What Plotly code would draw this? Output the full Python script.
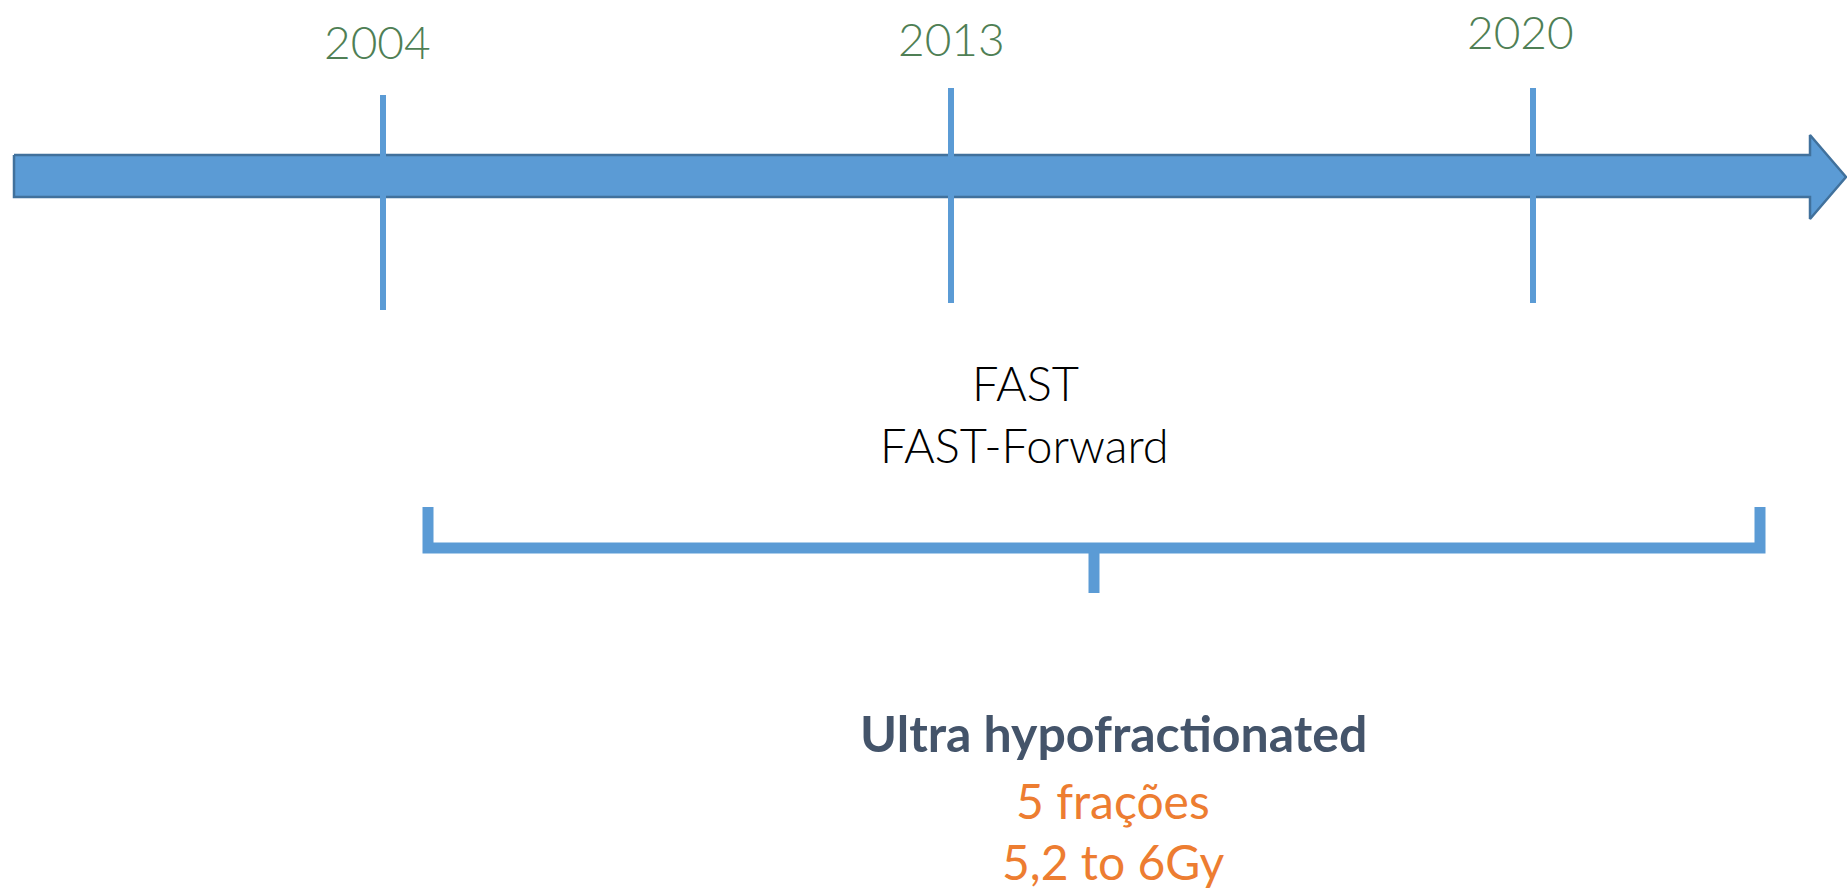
import plotly.graph_objects as go

# ---- content ----
years = ["2004", "2013", "2020"]
trial_lines = ["FAST", "FAST-Forward"]
regimen_title = "Ultra hypofractionated"
regimen_details = ["5 frações", "5,2 to 6Gy"]

# ---- geometry (pixel units of the page) ----
W, H = 1847, 891
ARROW_X0, ARROW_HEAD_X, ARROW_TIP_X = 14, 1810, 1846
BODY_Y0, BODY_Y1 = 155, 197
HEAD_Y0, HEAD_Y1, TIP_Y = 135, 219, 177
TICK_X = [383, 951, 1533]
TICK_Y = [(95, 310), (88, 303), (88, 303)]
YEAR_LABEL_X = [377, 951, 1520]
YEAR_LABEL_Y = [41, 38, 31]
TRIAL_X, TRIAL_Y = [1025, 1024], [383, 445]
BR_LEFT, BR_RIGHT, BR_TOP, BR_Y, BR_STEM_X, BR_STEM_BOTTOM = 428, 1760, 507, 548, 1094, 593
REG_X = 1113
REG_Y = [733, 800, 861]

BLUE = "#5B9BD5"
BLUE_DARK = "#41719C"
GREEN = "#4F7F55"
NAVY = "#44546A"
ORANGE = "#ED7D31"
FONT = "Lato"

fig = go.Figure()

# main arrow
ax = [ARROW_X0, ARROW_HEAD_X, ARROW_HEAD_X, ARROW_TIP_X, ARROW_HEAD_X, ARROW_HEAD_X, ARROW_X0, ARROW_X0]
ay = [BODY_Y0, BODY_Y0, HEAD_Y0, TIP_Y, HEAD_Y1, BODY_Y1, BODY_Y1, BODY_Y0]
fig.add_trace(go.Scatter(x=ax, y=ay, mode="lines", fill="toself", fillcolor=BLUE,
                         line=dict(color=BLUE_DARK, width=2.5), hoverinfo="skip", showlegend=False))

# year ticks
for x, (y0, y1) in zip(TICK_X, TICK_Y):
    fig.add_trace(go.Scatter(x=[x, x], y=[y0, y1], mode="lines",
                             line=dict(color=BLUE, width=6), hoverinfo="skip", showlegend=False))

# bracket
bx = [BR_LEFT, BR_LEFT, BR_RIGHT, BR_RIGHT, None, BR_STEM_X, BR_STEM_X]
by = [BR_TOP, BR_Y, BR_Y, BR_TOP, None, BR_Y, BR_STEM_BOTTOM]
fig.add_trace(go.Scatter(x=bx, y=by, mode="lines", line=dict(color=BLUE, width=11),
                         hoverinfo="skip", showlegend=False))

# year labels
for lab, x, y in zip(years, YEAR_LABEL_X, YEAR_LABEL_Y):
    fig.add_annotation(x=x, y=y, text=lab, showarrow=False, xanchor="center", yanchor="middle",
                       font=dict(family=FONT, size=46, color=GREEN, weight=300))

# trials
for lab, x, y in zip(trial_lines, TRIAL_X, TRIAL_Y):
    fig.add_annotation(x=x, y=y, text=lab, showarrow=False, xanchor="center", yanchor="middle",
                       font=dict(family=FONT, size=47, color="black", weight=300))

# regimen
fig.add_annotation(x=REG_X, y=REG_Y[0], text=regimen_title, showarrow=False,
                   xanchor="center", yanchor="middle",
                   font=dict(family=FONT, size=50, color=NAVY, weight=700))
for lab, y in zip(regimen_details, REG_Y[1:]):
    fig.add_annotation(x=REG_X, y=y, text=lab, showarrow=False, xanchor="center", yanchor="middle",
                       font=dict(family=FONT, size=48, color=ORANGE))

fig.update_layout(
    width=W, height=H, margin=dict(l=0, r=0, t=0, b=0),
    paper_bgcolor="white", plot_bgcolor="white",
    xaxis=dict(range=[0, W], visible=False, fixedrange=True),
    yaxis=dict(range=[H, 0], visible=False, fixedrange=True),
)

# remove the default page margin so the figure fills the window exactly
fig.write_html(
    "out.html",
    config={"displayModeBar": False, "staticPlot": True},
    post_script="document.body.style.margin='0';document.body.style.overflow='hidden';",
)
